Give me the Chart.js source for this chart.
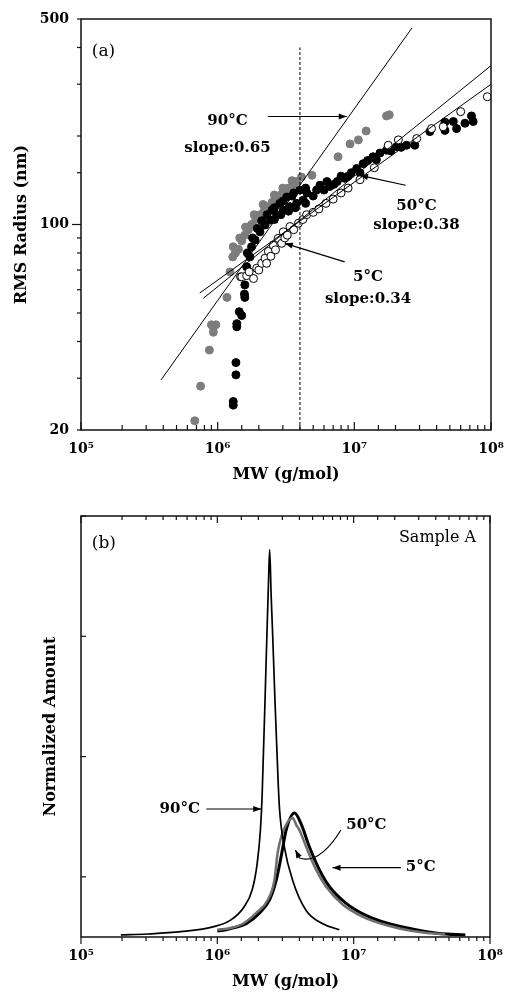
<!DOCTYPE html>
<html lang="en">
<head>
<meta charset="UTF-8">
<title>RMS radius and MW distribution</title>
<script src="https://cdn.jsdelivr.net/npm/chart.js@4"></script>
<style>
  body { margin: 0; background: #fff; }
  #wrap { position: relative; width: 509px; height: 992px; }
  canvas { position: absolute; left: 0; }
  #chartA { top: 0; }
  #chartB { top: 490px; }
</style>
</head>
<body>
<div id="wrap">
  <canvas id="chartA" width="509" height="490"></canvas>
  <canvas id="chartB" width="509" height="502"></canvas>
</div>
<script>
// ---- panel (a): RMS radius vs MW ----
const mw90  = [6.8e5, 7.5e5, 8.7e5, 9.0e5, 9.3e5, 9.7e5, 9.3e5, 1.17e6, 1.23e6, 1.29e6, 1.3e6, 1.35e6, 1.42e6, 1.45e6, 1.5e6, 1.58e6, 1.6e6, 1.68e6, 1.77e6, 1.85e6, 1.9e6, 2.04e6, 2.15e6, 2.2e6, 2.35e6, 2.5e6, 2.6e6, 2.7e6, 2.9e6, 3.0e6, 3.1e6, 3.3e6, 3.5e6, 3.57e6, 3.8e6, 4.1e6, 4.9e6, 7.6e6, 9.3e6, 1.07e7, 1.22e7, 1.72e7, 1.8e7];
const rms90 = [21.5, 28.2, 37.4, 45.6, 44.7, 45.6, 43, 56.5, 69, 77.6, 84, 80, 82.4, 90, 88, 92, 98, 96, 100, 108, 104, 108, 117, 112, 115, 119, 126, 123, 126, 133, 129, 133, 141, 136, 140, 145, 147, 170, 188, 194, 208, 234, 236];

const mw50  = [1.30e6, 1.30e6, 1.36e6, 1.36e6, 1.38e6, 1.38e6, 1.44e6, 1.50e6, 1.57e6, 1.58e6, 1.58e6, 1.63e6, 1.65e6, 1.72e6, 1.77e6, 1.8e6, 1.88e6, 1.95e6, 2.04e6, 2.1e6, 2.22e6, 2.3e6, 2.42e6, 2.5e6, 2.6e6, 2.6e6, 2.7e6, 2.85e6, 2.9e6, 3.0e6, 3.02e6, 3.2e6, 3.3e6, 3.38e6, 3.5e6, 3.6e6, 3.7e6, 3.78e6, 4.0e6, 4.23e6, 4.4e6, 4.4e6, 4.5e6, 5.0e6, 5.3e6, 5.6e6, 6.0e6, 6.3e6, 6.6e6, 7.1e6, 7.5e6, 8e6, 8.5e6, 9e6, 9.5e6, 1.04e7, 1.1e7, 1.16e7, 1.25e7, 1.37e7, 1.45e7, 1.54e7, 1.72e7, 1.85e7, 2.04e7, 2.2e7, 2.41e7, 2.77e7, 3.57e7, 4.6e7, 4.6e7, 5.3e7, 5.6e7, 6.45e7, 7.2e7, 7.4e7];
const rms50 = [24.3, 25, 30.8, 33.9, 44.9, 46, 50.5, 49, 58, 56.5, 62.3, 71.8, 80, 77.6, 84, 90, 88.5, 97, 94.4, 103, 99.6, 108, 103.5, 112, 114, 104, 108, 118, 108, 120, 112, 124, 111, 115, 125, 128, 114, 118, 131, 121, 133, 118, 128, 125, 131, 136, 131, 140, 134.6, 137, 140, 146, 143.6, 146, 150, 155, 150, 161, 165, 170, 166, 175, 179, 178, 184, 183, 186, 186, 207, 223, 209, 224, 212, 221, 234, 224];

const mw5  = [1.47e6, 1.5e6, 1.63e6, 1.7e6, 1.83e6, 1.93e6, 2.0e6, 2.1e6, 2.22e6, 2.28e6, 2.35e6, 2.45e6, 2.55e6, 2.65e6, 2.77e6, 2.94e6, 3.02e6, 3.1e6, 3.23e6, 3.38e6, 3.6e6, 3.9e6, 4.2e6, 4.48e6, 5.0e6, 5.5e6, 6.2e6, 7.0e6, 8e6, 9.0e6, 1.1e7, 1.4e7, 1.77e7, 2.1e7, 2.86e7, 3.67e7, 4.47e7, 6.0e7, 9.4e7];
const rms5 = [66.4, 66.4, 67, 69, 65.5, 71, 70, 73.8, 76.8, 73.8, 81, 78, 85, 82, 89.7, 86.3, 94.4, 90, 92, 98.4, 96, 101, 104, 108, 110, 113, 118, 122, 128, 133, 142, 156, 186, 194, 196, 212, 215, 242, 272];

// fitted power laws and the dashed cut-off line
const fit90 = [[3.85e5, 29.6], [2.64e7, 466]];
const fit50 = [[7.85e5, 56.1], [1e8, 347]];
const fit5  = [[7.4e5, 58.5], [1e8, 300]];
const cutoffA = [[4.0e6, 20], [4.0e6, 400]];

const xLabelVals = [1e5, 1e6, 1e7, 1e8];
const yLabelValsA = [20, 100, 500];

// ---- panel (b): distributions ----
const mwB90  = [1.96e5, 3.08e5, 5.4e5, 9.45e5, 1.25e6, 1.57e6, 1.8e6, 1.96e6, 2.07e6, 2.13e6, 2.28e6, 2.37e6, 2.42e6, 2.48e6, 2.55e6, 2.65e6, 2.79e6, 2.86e6, 3.1e6, 3.57e6, 4.48e6, 5.93e6, 7.85e6];
const amtB90 = [0.017, 0.025, 0.044, 0.086, 0.14, 0.25, 0.39, 0.61, 0.89, 1.17, 2.29, 2.93, 3.22, 2.85, 2.49, 1.95, 1.30, 1.06, 0.75, 0.47, 0.22, 0.11, 0.06];

const mwB50  = [1.0e6, 1.25e6, 1.54e6, 1.93e6, 2.35e6, 2.62e6, 2.77e6, 2.94e6, 3.3e6, 3.57e6, 3.8e6, 4.0e6, 4.48e6, 5.3e6, 6.27e6, 8.3e6, 1.16e7, 1.72e7, 2.7e7, 4.7e7];
const amtB50 = [0.06, 0.075, 0.11, 0.2, 0.31, 0.47, 0.70, 0.83, 0.96, 0.99, 0.93, 0.89, 0.75, 0.56, 0.42, 0.27, 0.17, 0.10, 0.05, 0.02];

const mwB5  = [1.0e6, 1.1e6, 1.25e6, 1.63e6, 2.04e6, 2.42e6, 2.7e6, 2.94e6, 3.2e6, 3.68e6, 4.1e6, 4.73e6, 5.6e6, 6.63e6, 8.8e6, 1.23e7, 1.82e7, 2.86e7, 4.23e7, 6.6e7];
const amtB5 = [0.05, 0.055, 0.07, 0.11, 0.20, 0.31, 0.47, 0.67, 0.89, 1.03, 0.945, 0.75, 0.56, 0.42, 0.28, 0.18, 0.11, 0.06, 0.03, 0.017];

const yTicksB = [0.5, 1.5, 2.5, 3.5];

const SERIF = "'DejaVu Serif', serif";
Chart.defaults.font.family = SERIF;
Chart.defaults.color = '#000';

const pts = (xs, ys) => xs.map((x, i) => ({x: x, y: ys[i]}));
const pairs = arr => arr.map(p => ({x: p[0], y: p[1]}));
const SUP = '⁰¹²³⁴⁵⁶⁷⁸⁹';
const isDecade = v => Math.abs(Math.log10(v) - Math.round(Math.log10(v))) < 1e-9;
const powLabel = v => '10' + SUP[Math.round(Math.log10(v))];
// keep the plot box where it is, whatever the edge labels want
const noPad = s => { s.paddingLeft = 0; s.paddingRight = 0; s.paddingTop = 0; s.paddingBottom = 0; };

function arrow(ctx, x1, y1, x2, y2) {
    const a = Math.atan2(y2 - y1, x2 - x1);
    ctx.beginPath();
    ctx.moveTo(x1, y1);
    ctx.lineTo(x2, y2);
    ctx.stroke();
    ctx.beginPath();
    ctx.moveTo(x2, y2);
    ctx.lineTo(x2 - 8 * Math.cos(a) + 3 * Math.sin(a), y2 - 8 * Math.sin(a) - 3 * Math.cos(a));
    ctx.lineTo(x2 - 8 * Math.cos(a) - 3 * Math.sin(a), y2 - 8 * Math.sin(a) + 3 * Math.cos(a));
    ctx.closePath();
    ctx.fill();
}

// box around the plot plus small tick marks (in or out)
const frameTicks = {
    id: 'frameTicks',
    afterDatasetsDraw(chart, args, opts) {
        const {ctx, chartArea: a} = chart;
        ctx.save();
        ctx.strokeStyle = '#111';
        ctx.lineWidth = 1.5;
        ctx.strokeRect(a.left, a.top, a.right - a.left, a.bottom - a.top);
        ctx.lineWidth = 1.2;
        opts.marks.forEach(m => {
            const s = chart.scales[m.axis];
            s.ticks.forEach(t => {
                const len = (s.type === 'logarithmic' && isDecade(t.value)) ? m.long : m.short;
                const p = s.getPixelForValue(t.value);
                ctx.beginPath();
                if (m.edge === 'left') {
                    ctx.moveTo(a.left, p);
                    ctx.lineTo(a.left + m.dir * len, p);
                } else {
                    const y0 = m.edge === 'top' ? a.top : a.bottom;
                    ctx.moveTo(p, y0);
                    ctx.lineTo(p, y0 + m.dir * len);
                }
                ctx.stroke();
            });
        });
        ctx.restore();
    }
};

// text labels and arrows placed in data coordinates
const notes = {
    id: 'notes',
    afterDraw(chart, args, opts) {
        const {ctx} = chart;
        const px = v => chart.scales.x.getPixelForValue(v);
        const py = v => chart.scales.y.getPixelForValue(v);
        ctx.save();
        ctx.fillStyle = '#000';
        ctx.strokeStyle = '#000';
        ctx.lineWidth = 1.2;
        (opts.arrows || []).forEach(r => arrow(ctx, px(r[0]), py(r[1]), px(r[2]), py(r[3])));
        (opts.hooks || []).forEach(h => {
            ctx.beginPath();
            ctx.moveTo(px(h[0]), py(h[1]));
            ctx.quadraticCurveTo(px(h[2]), py(h[3]), px(h[4]), py(h[5]));
            ctx.stroke();
            arrow(ctx, px(h[4]), py(h[5]), px(h[6]), py(h[7]));
        });
        ctx.textBaseline = 'middle';
        (opts.labels || []).forEach(l => {
            ctx.font = l.font;
            ctx.textAlign = l.align || 'center';
            ctx.fillText(l.text, px(l.x), py(l.y));
        });
        ctx.restore();
    }
};

const BOLD = 'bold 15px ' + SERIF;
const PLAIN = '17px ' + SERIF;

new Chart(document.getElementById('chartA'), {
    type: 'scatter',
    data: {
        datasets: [
            {label: '90°C fit', data: pairs(fit90), showLine: true, borderColor: '#000', borderWidth: 1, pointRadius: 0, order: 0},
            {label: '50°C fit', data: pairs(fit50), showLine: true, borderColor: '#000', borderWidth: 1, pointRadius: 0, order: 0},
            {label: '5°C fit', data: pairs(fit5), showLine: true, borderColor: '#000', borderWidth: 1, pointRadius: 0, order: 0},
            {label: 'cut-off', data: pairs(cutoffA), showLine: true, borderColor: '#000', borderWidth: 1, borderDash: [3, 2], pointRadius: 0, order: 0},
            {label: '5°C', data: pts(mw5, rms5), pointRadius: 4, backgroundColor: '#fff', borderColor: '#000', borderWidth: 1, order: 1},
            {label: '50°C', data: pts(mw50, rms50), pointRadius: 4, backgroundColor: '#000', borderColor: '#000', borderWidth: 1, order: 2},
            {label: '90°C', data: pts(mw90, rms90), pointRadius: 4, backgroundColor: '#7d7d7d', borderColor: '#7d7d7d', borderWidth: 1, order: 3}
        ]
    },
    options: {
        responsive: false,
        animation: false,
        devicePixelRatio: 1,
        layout: {padding: {top: 19, right: 18, left: 0, bottom: 0}},
        scales: {
            x: {
                type: 'logarithmic', min: 1e5, max: 1e8,
                grid: {display: false, drawTicks: false},
                border: {display: false},
                afterFit: s => { s.height = 60; noPad(s); },
                ticks: {
                    autoSkip: false, maxRotation: 0, padding: 11,
                    font: {size: 14, weight: 'bold'},
                    callback: v => xLabelVals.some(t => Math.abs(t - v) / t < 1e-6) ? powLabel(v) : ''
                },
                title: {display: true, text: 'MW (g/mol)', font: {size: 16, weight: 'bold'}, padding: {top: 0, bottom: 6}}
            },
            y: {
                type: 'logarithmic', min: 20, max: 500,
                grid: {display: false, drawTicks: false},
                border: {display: false},
                afterFit: s => { s.width = 81; noPad(s); },
                ticks: {
                    autoSkip: false, padding: 12,
                    font: {size: 14, weight: 'bold'},
                    callback: v => yLabelValsA.some(t => Math.abs(t - v) < 1e-6) ? String(v) : ''
                },
                title: {display: true, text: 'RMS Radius (nm)', font: {size: 16, weight: 'bold'}, padding: {top: 12, bottom: 0}}
            }
        },
        plugins: {
            legend: {display: false},
            tooltip: {enabled: false},
            frameTicks: {marks: [
                {axis: 'x', edge: 'bottom', dir: -1, long: 8, short: 5},
                {axis: 'y', edge: 'left', dir: -1, long: 9, short: 4}
            ]},
            notes: {
                arrows: [
                    [2.33e6, 233, 8.8e6, 233],
                    [2.37e7, 136, 1.1e7, 147],
                    [8.5e6, 74.6, 3.1e6, 86.3]
                ],
                labels: [
                    {text: '(a)', x: 1.2e5, y: 386, align: 'left', font: PLAIN},
                    {text: '90°C', x: 1.18e6, y: 224, font: BOLD},
                    {text: 'slope:0.65', x: 1.18e6, y: 182, font: BOLD},
                    {text: '50°C', x: 2.85e7, y: 115.6, font: BOLD},
                    {text: 'slope:0.38', x: 2.85e7, y: 99.5, font: BOLD},
                    {text: '5°C', x: 1.26e7, y: 66.4, font: BOLD},
                    {text: 'slope:0.34', x: 1.26e7, y: 55.7, font: BOLD}
                ]
            }
        }
    },
    plugins: [frameTicks, notes]
});

new Chart(document.getElementById('chartB'), {
    type: 'scatter',
    data: {
        datasets: [
            {label: '90°C', data: pts(mwB90, amtB90), showLine: true, cubicInterpolationMode: 'monotone', borderColor: '#000', borderWidth: 1.7, pointRadius: 0, order: 0},
            {label: '50°C', data: pts(mwB50, amtB50), showLine: true, cubicInterpolationMode: 'monotone', borderColor: '#6e6e6e', borderWidth: 2.5, pointRadius: 0, order: 1},
            {label: '5°C', data: pts(mwB5, amtB5), showLine: true, cubicInterpolationMode: 'monotone', borderColor: '#000', borderWidth: 3, pointRadius: 0, order: 2}
        ]
    },
    options: {
        responsive: false,
        animation: false,
        devicePixelRatio: 1,
        layout: {padding: {top: 26, right: 19, left: 0, bottom: 0}},
        scales: {
            x: {
                type: 'logarithmic', min: 1e5, max: 1e8,
                grid: {display: false, drawTicks: false},
                border: {display: false},
                afterFit: s => { s.height = 55; noPad(s); },
                ticks: {
                    autoSkip: false, maxRotation: 0, padding: 11,
                    font: {size: 14, weight: 'bold'},
                    callback: v => xLabelVals.some(t => Math.abs(t - v) / t < 1e-6) ? powLabel(v) : ''
                },
                title: {display: true, text: 'MW (g/mol)', font: {size: 16, weight: 'bold'}, padding: {top: 0, bottom: 0.5}}
            },
            y: {
                min: 0, max: 3.5,
                grid: {display: false, drawTicks: false},
                border: {display: false},
                afterFit: s => { s.width = 81; noPad(s); },
                afterBuildTicks: s => { s.ticks = yTicksB.map(v => ({value: v})); },
                ticks: {callback: () => ''},
                title: {display: true, text: 'Normalized Amount', font: {size: 16, weight: 'bold'}, padding: {top: 41, bottom: 0}}
            }
        },
        plugins: {
            legend: {display: false},
            tooltip: {enabled: false},
            frameTicks: {marks: [
                {axis: 'x', edge: 'bottom', dir: 1, long: 7, short: 4},
                {axis: 'x', edge: 'top', dir: 1, long: 7, short: 4},
                {axis: 'y', edge: 'left', dir: 1, long: 5, short: 5}
            ]},
            notes: {
                arrows: [
                    [8.3e5, 1.064, 2.1e6, 1.064],
                    [2.22e7, 0.576, 7.0e6, 0.576]
                ],
                hooks: [
                    [8.07e6, 0.89, 5.6e6, 0.60, 4.0e6, 0.657, 3.74e6, 0.723]
                ],
                labels: [
                    {text: '(b)', x: 1.2e5, y: 3.27, align: 'left', font: PLAIN},
                    {text: 'Sample A', x: 7.9e7, y: 3.32, align: 'right', font: '16px ' + SERIF},
                    {text: '90°C', x: 5.3e5, y: 1.064, font: BOLD},
                    {text: '50°C', x: 1.24e7, y: 0.93, font: BOLD},
                    {text: '5°C', x: 3.1e7, y: 0.584, font: BOLD}
                ]
            }
        }
    },
    plugins: [frameTicks, notes]
});
</script>
</body>
</html>
